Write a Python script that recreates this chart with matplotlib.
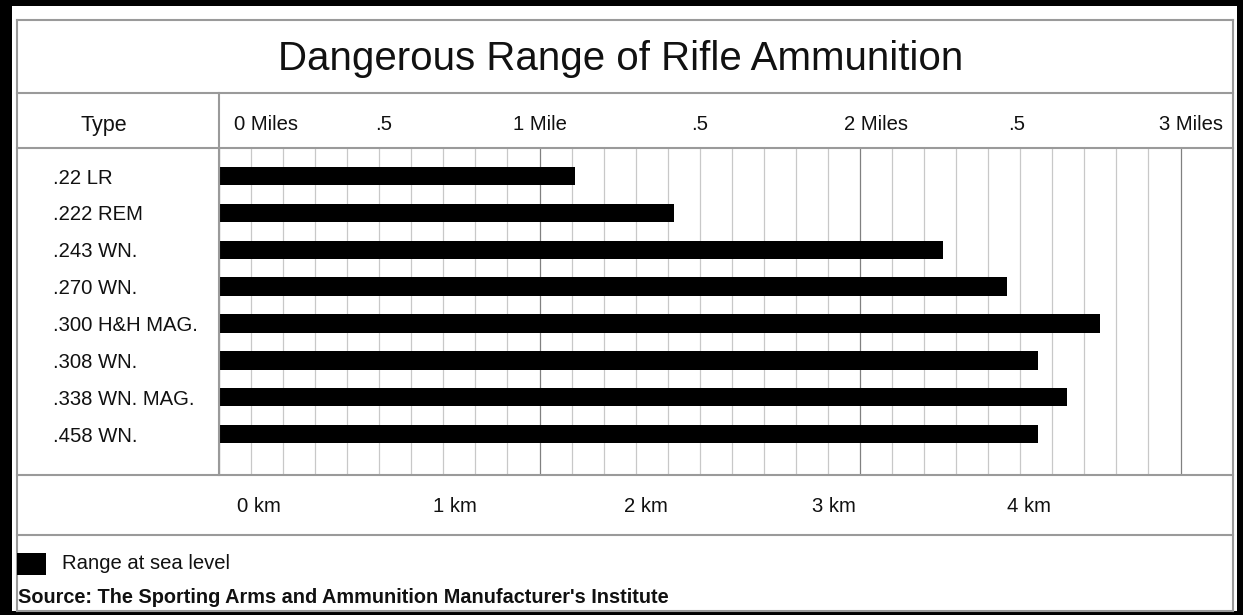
import numpy as np
import matplotlib
matplotlib.use('Agg')
import matplotlib.pyplot as plt
from matplotlib.lines import Line2D
from matplotlib.patches import Rectangle
from matplotlib.transforms import blended_transform_factory

plt.rcParams['font.family'] = ['Liberation Sans', 'DejaVu Sans']

# datos (millas)
ammo_types = ['.22 LR', '.222 REM', '.243 WN.', '.270 WN.', '.300 H&H MAG.',
              '.308 WN.', '.338 WN. MAG.', '.458 WN.']
range_miles = [1.11, 1.42, 2.26, 2.46, 2.75, 2.555, 2.645, 2.555]

mile_labels = ['0 Miles', '.5', '1 Mile', '.5', '2 Miles', '.5', '3 Miles']
mile_label_pos = [0.147, 0.515, 1.0, 1.5, 2.05, 2.49, 3.033]

km_labels = ['0 km', '1 km', '2 km', '3 km', '4 km']
km_label_pos = [0.125, 0.736, 1.332, 1.919, 2.527]

title = 'Dangerous Range of Rifle Ammunition'
legend_text = 'Range at sea level'
source_text = "Source: The Sporting Arms and Ammunition Manufacturer's Institute"

W, H = 1243, 615
px_per_mile = 320.5
frame_col = '#9a9a9a'


def fx(x):
    return x / W


def fy(y):
    return 1 - y / H


fig = plt.figure(figsize=(W / 100, H / 100), dpi=100)
fig.patch.set_facecolor('black')

# fondo blanco dentro del marco negro
fig.add_artist(Rectangle((fx(12), fy(611)), (1237 - 12) / W, (611 - 6) / H,
                         transform=fig.transFigure, facecolor='white',
                         edgecolor='none', zorder=0))

# zona de barras
ax = fig.add_axes([fx(219), fy(475), (1233 - 219) / W, (475 - 148) / H])
ax.set_facecolor('white')
ax.set_xlim(0, (1233 - 219) / px_per_mile)
ax.set_ylim(8.11, -0.76)

ax.set_xticks([0, 1, 2, 3])
ax.set_xticks(np.arange(0, 3.01, 0.1), minor=True)
ax.grid(which='minor', axis='x', color='#c8c8c8', linewidth=0.9)
ax.grid(which='major', axis='x', color='#808080', linewidth=0.9)
ax.tick_params(which='both', length=0, labelbottom=False, labelleft=False)
ax.set_yticks([])
ax.set_axisbelow(True)
for s in ax.spines.values():
    s.set_visible(False)

rows = np.arange(len(ammo_types))
ax.barh(rows, range_miles, height=0.5, color='black', zorder=3)

# etiquetas de filas
tr_rows = blended_transform_factory(fig.transFigure, ax.transData)
for r, name in zip(rows, ammo_types):
    ax.text(fx(53), r, name, transform=tr_rows, fontsize=14.6,
            ha='left', va='center_baseline', color='#111111')

# cabecera en millas
tr_top = blended_transform_factory(ax.transData, fig.transFigure)
for p, lab in zip(mile_label_pos, mile_labels):
    ax.text(p, fy(122.5), lab, transform=tr_top, fontsize=14.6,
            ha='center', va='center_baseline', color='#111111', clip_on=False)

# fila de km
for p, lab in zip(km_label_pos, km_labels):
    ax.text(p, fy(505), lab, transform=tr_top, fontsize=14.6,
            ha='center', va='center_baseline', color='#111111', clip_on=False)

fig.text(fx(104), fy(122.5), 'Type', fontsize=15.5, ha='center',
         va='center_baseline', color='#111111')
fig.text(fx(621), fy(54.5), title, fontsize=29, ha='center',
         va='center_baseline', color='#111111')

# lineas del cuadro
def hline(y, x0=17, x1=1233):
    fig.add_artist(Line2D([fx(x0), fx(x1)], [fy(y), fy(y)],
                          transform=fig.transFigure, color=frame_col,
                          linewidth=1.5, zorder=5))


def vline(x, y0, y1):
    fig.add_artist(Line2D([fx(x), fx(x)], [fy(y0), fy(y1)],
                          transform=fig.transFigure, color=frame_col,
                          linewidth=1.5, zorder=5))


for y in [20, 93, 148, 475, 535, 611]:
    hline(y)
vline(17, 20, 611)
vline(1233, 20, 611)
vline(219, 93, 475)

# leyenda y fuente
fig.add_artist(Rectangle((fx(17), fy(575)), (46 - 17) / W, (575 - 553) / H,
                         transform=fig.transFigure, facecolor='black',
                         edgecolor='none', zorder=6))
fig.text(fx(62), fy(561.5), legend_text, fontsize=14.6, ha='left',
         va='center_baseline', color='#111111')
fig.text(fx(18), fy(595.5), source_text, fontsize=14.3, fontweight='bold',
         ha='left', va='center_baseline', color='#111111')

fig.savefig('out.png', dpi=100, facecolor=fig.get_facecolor())
